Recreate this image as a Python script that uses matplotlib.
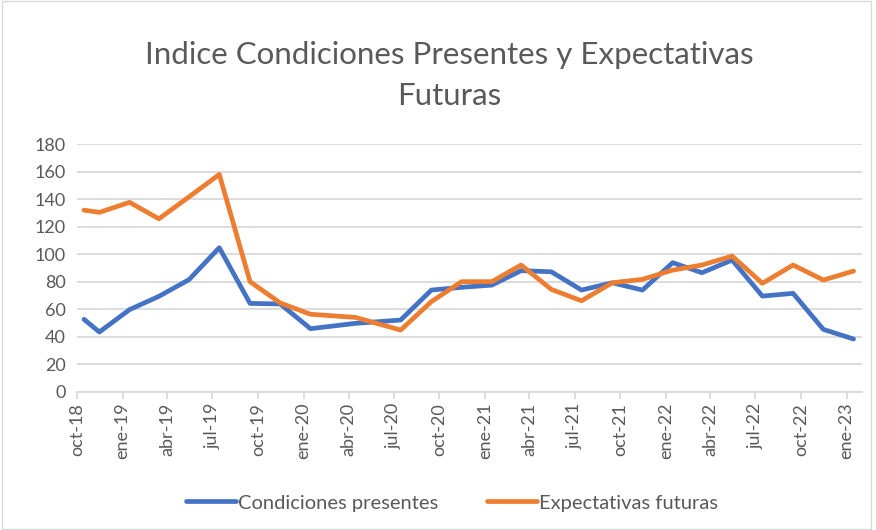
import datetime as dt
import matplotlib
matplotlib.use("Agg")
import matplotlib.pyplot as plt
from matplotlib.patches import Rectangle

# ------------------------------
# Datos
# ------------------------------
meses = ["2018-10", "2018-11", "2019-01", "2019-03", "2019-05", "2019-07",
         "2019-09", "2019-11", "2020-01", "2020-04", "2020-07", "2020-09",
         "2020-11", "2021-01", "2021-03", "2021-05", "2021-07", "2021-09",
         "2021-11", "2022-01", "2022-03", "2022-05", "2022-07", "2022-09",
         "2022-11", "2023-01"]

condiciones_presentes = [52.6, 43.4, 59.7, 69.3, 81.5, 104.7, 64.2, 63.8, 45.8,
                         49.7, 52.1, 73.9, 75.9, 77.5, 88.0, 87.2, 73.9, 79.2,
                         73.9, 93.8, 86.5, 95.7, 69.5, 71.5, 45.3, 38.3]

expectativas_futuras = [132.0, 130.4, 137.7, 125.7, 141.7, 158.0, 80.0, 64.5,
                        56.3, 54.0, 44.8, 65.5, 80.0, 80.0, 92.1, 74.4, 66.1,
                        79.2, 81.7, 88.4, 92.1, 98.6, 78.8, 92.1, 81.2, 87.7]

etiquetas_x = ["oct-18", "ene-19", "abr-19", "jul-19", "oct-19", "ene-20",
               "abr-20", "jul-20", "oct-20", "ene-21", "abr-21", "jul-21",
               "oct-21", "ene-22", "abr-22", "jul-22", "oct-22", "ene-23"]

# puntos centrados en el mes (eje de fechas "entre marcas")
fechas = [dt.datetime.strptime(m + "-15", "%Y-%m-%d") for m in meses]
ticks = []
y, mo = 2018, 10
for _ in etiquetas_x:
    ticks.append(dt.datetime(y, mo, 1))
    mo += 3
    if mo > 12:
        mo -= 12
        y += 1

gris = "#595959"
plt.rcParams['font.family'] = ['Lato', 'DejaVu Sans']

fig = plt.figure(figsize=(8.76, 5.30), dpi=100)
ax = fig.add_axes([0.088, 0.261, 0.896, 0.467])

ax.plot(fechas, condiciones_presentes, color="#4472C4", lw=3.4,
        solid_joinstyle="round", solid_capstyle="round", label="Condiciones presentes")
ax.plot(fechas, expectativas_futuras, color="#ED7D31", lw=3.4,
        solid_joinstyle="round", solid_capstyle="round", label="Expectativas futuras")

ax.set_xlim(dt.datetime(2018, 10, 1), dt.datetime(2023, 2, 1))
ax.set_ylim(0, 180)
ax.set_yticks(range(0, 181, 20))
ax.set_xticks(ticks)
ax.set_xticklabels(etiquetas_x, rotation=90)

ax.grid(axis="y", color="#D9D9D9", lw=1.3)
ax.set_axisbelow(True)
for s in ["top", "right", "left"]:
    ax.spines[s].set_visible(False)
ax.spines["bottom"].set_color("#D9D9D9")
ax.spines["bottom"].set_linewidth(1.3)
ax.tick_params(axis="y", length=0, pad=8, labelsize=13, labelcolor=gris)
ax.tick_params(axis="x", length=5, width=1.3, color="#D9D9D9", pad=3,
               labelsize=13, labelcolor=gris)

fig.text(0.513, 0.857, "Indice Condiciones Presentes y Expectativas\nFuturas",
         ha="center", va="center", fontsize=22.5, color=gris, linespacing=1.55)

fig.legend(loc="center", bbox_to_anchor=(0.516, 0.051), ncol=2, frameon=False,
           fontsize=14.5, handlelength=2.5, handletextpad=0.1, columnspacing=2.4,
           labelcolor=gris)

# borde del área del gráfico
fig.patches.append(Rectangle((0.002, 0.002), 0.992, 0.996, transform=fig.transFigure,
                             fill=False, edgecolor="#D9D9D9", lw=1))

fig.savefig("out.png", dpi=100)
